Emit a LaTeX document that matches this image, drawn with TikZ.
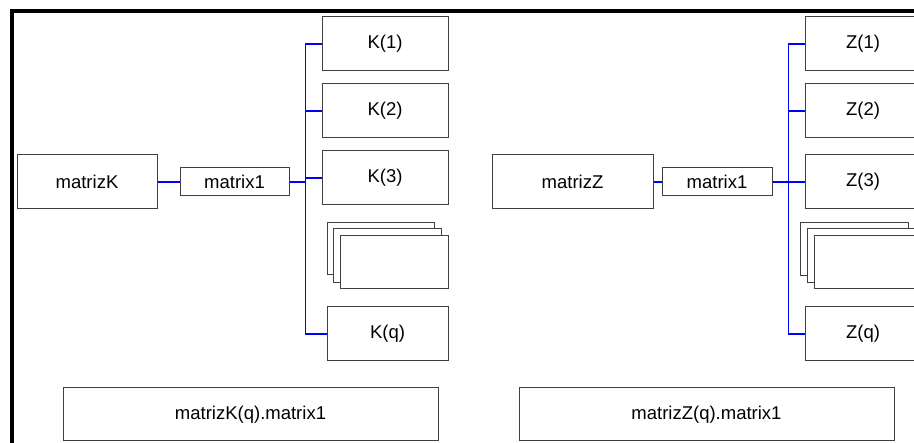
\documentclass[tikz,border=0pt]{standalone}
\usepackage{fontspec}
\setmainfont{Liberation Sans}
\begin{document}
\begin{tikzpicture}[x=1pt,y=-1pt,
  box/.style={draw=black!75, fill=white, line width=1pt, rectangle, anchor=north west, inner sep=0pt, font=\fontsize{18.5}{21}\selectfont},
  conn/.style={draw=blue, line width=1.2pt},
  frame/.style={draw=black, line width=4pt}]
\useasboundingbox (0,0) rectangle (914,443);
\begin{scope}
\clip (0,0) rectangle (914,443);
% frame
\draw[frame] (12,443) -- (12,11) -- (914,11);
\begin{scope}[shift={(0.5,0.5)}]
% left group
\node[box, minimum width=140, minimum height=54] (mK) at (16,154) {matrizK};
\node[box, minimum width=109, minimum height=28] (m1K) at (179,167) {matrix1};
\node[box, minimum width=126, minimum height=54] (K1) at (321,16) {K(1)};
\node[box, minimum width=126, minimum height=54] (K2) at (321,83) {K(2)};
\node[box, minimum width=126, minimum height=54] (K3) at (321,150) {K(3)};
\node[box, minimum width=107, minimum height=52] (Ks1) at (326,222) {};
\node[box, minimum width=108, minimum height=54] (Ks2) at (332,228) {};
\node[box, minimum width=108, minimum height=53] (Ks3) at (339,235) {};
\node[box, minimum width=121, minimum height=54] (Kq) at (326,306) {K(q)};
\node[box, minimum width=375, minimum height=53] (bK) at (62,387) {matrizK(q).matrix1};
\coordinate (bk) at (305,0);
\draw[conn] (mK.east) -- (m1K.west);
\draw[conn] (m1K.east) -- (m1K.east -| bk);
\draw[conn] (K1.west) -- (K1.west -| bk) -- (Kq.west -| bk) -- (Kq.west);
\draw[conn] (K2.west) -- (K2.west -| bk);
\draw[conn] (K3.west) -- (K3.west -| bk);
% right group
\node[box, minimum width=161, minimum height=54] (mZ) at (491,154) {matrizZ};
\node[box, minimum width=110, minimum height=28] (m1Z) at (661,167) {matrix1};
\node[box, minimum width=116, minimum height=54] (Z1) at (804,16) {Z(1)};
\node[box, minimum width=116, minimum height=54] (Z2) at (804,83) {Z(2)};
\node[box, minimum width=116, minimum height=54] (Z3) at (804,154) {Z(3)};
\node[box, minimum width=108, minimum height=53] (Zs1) at (799,222) {};
\node[box, minimum width=107, minimum height=54] (Zs2) at (806,228) {};
\node[box, minimum width=110, minimum height=53] (Zs3) at (813,235) {};
\node[box, minimum width=116, minimum height=54] (Zq) at (804,306) {Z(q)};
\node[box, minimum width=375, minimum height=53] (bZ) at (518,387) {matrizZ(q).matrix1};
\coordinate (bz) at (788,0);
\draw[conn] (mZ.east) -- (m1Z.west);
\draw[conn] (m1Z.east) -- (Z3.west);
\draw[conn] (Z1.west) -- (Z1.west -| bz) -- (Zq.west -| bz) -- (Zq.west);
\draw[conn] (Z2.west) -- (Z2.west -| bz);
\end{scope}
\end{scope}
\end{tikzpicture}
\end{document}
